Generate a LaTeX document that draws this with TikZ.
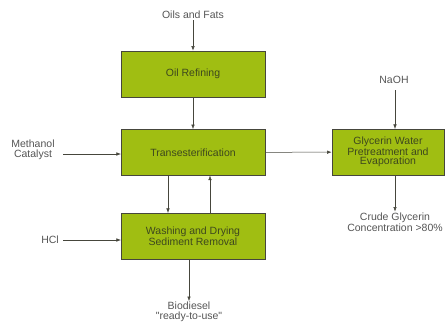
\documentclass[tikz,border=0pt]{standalone}
\usepackage{fontspec}
\setmainfont{Liberation Sans}
\usepackage{tikz}
\usetikzlibrary{arrows.meta, positioning}
\usepackage{xcolor}
\definecolor{boxgreen}{RGB}{160,190,18}
\definecolor{boxline}{RGB}{70,70,60}
\definecolor{boxtext}{RGB}{62,72,30}
\definecolor{labelgray}{RGB}{85,85,85}

\begin{document}
\begin{tikzpicture}[x=1pt,y=-1pt]
                    \tikzstyle{process} = [
	shape=rectangle,
	draw=boxline, %border of the box
	fill=boxgreen, %fill of the box
	line width=0.6pt,
	minimum width=144pt,
	minimum height=46pt,
	text=boxtext,
	align=center,
	font=\fontsize{10.5}{9.5}\selectfont,
	inner sep=1pt
];
                    \tikzstyle{stream} = [
	text=labelgray,
	align=center,
	font=\fontsize{10.5}{9.5}\selectfont,
	inner sep=1pt
];
                    \tikzstyle{flow} = [
	-{Latex[length=1.6mm,width=1.2mm]},
	line width=0.5pt,
	color=boxline
];

\clip (0,0) rectangle (448,322);
\fill[white] (0,0) rectangle (448,322);

%process boxes
\node[process](Ref) at (193,74) {Oil Refining};
\node[process](Tra) at (193,152.5) {Transesterification};
\node[process](Was) at (193,236) {Washing and Drying\\Sediment Removal};
\node[process, minimum width=112pt](Gly) at (388,152) {Glycerin Water\\Pretreatment and\\Evaporation};

%inputs and products
\node[stream](Oil) at (193,15) {Oils and Fats};
\node[stream](Met) at (33,150) {Methanol\\Catalyst};
\node[stream](HCl) at (50,240) {HCl};
\node[stream](NaO) at (394,80) {NaOH};
\node[stream](Bio) at (189,312) {Biodiesel\\\textquotedbl ready-to-use\textquotedbl};
\node[stream](Cru) at (395,222) {Crude Glycerin\\Concentration >80\%};

%connector ends
\coordinate (MetR) at (63,154);
\coordinate (TraL) at (121,154);
\coordinate (HClR) at (63,240);
\coordinate (WasL) at (121,240);
\coordinate (NaOT) at (395,90);
\coordinate (GlyT) at (395,129);
\coordinate (GlyB) at (395,175);
\coordinate (WasB) at (189,259);
\coordinate (TraB1) at (168,175.5);
\coordinate (WasT1) at (168,213);
\coordinate (WasT2) at (210,213);
\coordinate (TraB2) at (210,175.5);

%main flow
\path
	(Oil) edge[flow] (Ref)
	(Ref) edge[flow] (Tra)
	(Tra) edge[flow] (Gly)
	(NaOT) edge[flow] (GlyT)
	(GlyB) edge[flow] (Cru)
	(WasB) edge[flow] (Bio)
;

%side feeds
\path
	(MetR) edge[flow] (TraL)
	(HClR) edge[flow] (WasL)
;

%loop between the two boxes
\path
	(TraB1) edge[flow] (WasT1)
	(WasT2) edge[flow] (TraB2)
;

                \end{tikzpicture}
\end{document}
